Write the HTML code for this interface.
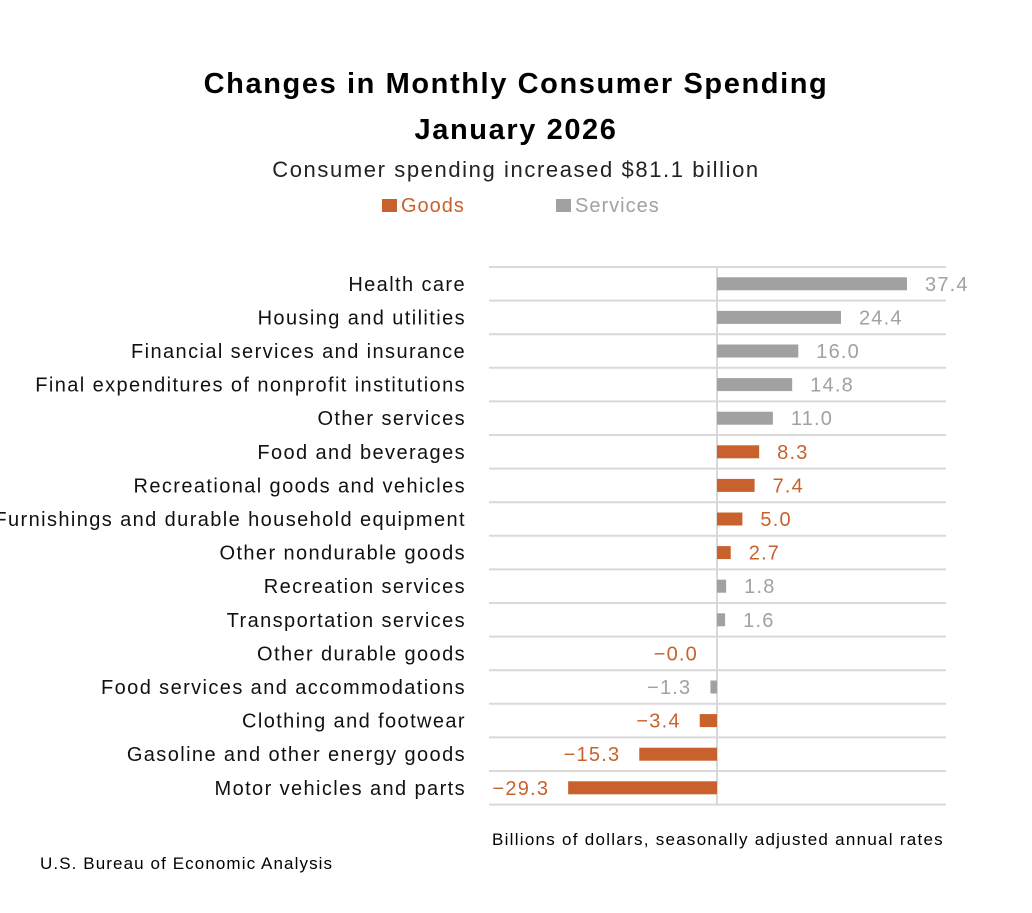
<!DOCTYPE html>
<html><head><meta charset="utf-8"><style>
body{margin:0;background:#fff;width:1032px;height:908px;overflow:hidden;font-family:"Liberation Sans",sans-serif}
</style></head><body>
<svg width="1032" height="908" xmlns="http://www.w3.org/2000/svg">
<text x="516" y="93" text-anchor="middle" font-size="29" font-weight="bold" letter-spacing="1.6" fill="#000">Changes in Monthly Consumer Spending</text>
<text x="516" y="139" text-anchor="middle" font-size="29" font-weight="bold" letter-spacing="1.6" fill="#000">January 2026</text>
<text x="516" y="177" text-anchor="middle" font-size="22" letter-spacing="1.6" fill="#222">Consumer spending increased $81.1 billion</text>
<g>
<rect x="382" y="199" width="15" height="13" fill="#c8612c"/>
<text x="401" y="212" font-size="20" letter-spacing="1" fill="#c8612c">Goods</text>
<rect x="556" y="199" width="15" height="13" fill="#a0a2a2"/>
<text x="575" y="212" font-size="20" letter-spacing="1" fill="#a0a2a2">Services</text>
</g>
<g id="plot"></g>
<text x="718" y="845" text-anchor="middle" font-size="17" letter-spacing="1.27" fill="#000">Billions of dollars, seasonally adjusted annual rates</text>
<text x="40" y="869" font-size="17" letter-spacing="1.1" fill="#000">U.S. Bureau of Economic Analysis</text>
</svg>
<script>
const categories=["Health care","Housing and utilities","Financial services and insurance","Final expenditures of nonprofit institutions","Other services","Food and beverages","Recreational goods and vehicles","Furnishings and durable household equipment","Other nondurable goods","Recreation services","Transportation services","Other durable goods","Food services and accommodations","Clothing and footwear","Gasoline and other energy goods","Motor vehicles and parts"];
const values=[37.4,24.4,16.0,14.8,11.0,8.3,7.4,5.0,2.7,1.8,1.6,-0.0,-1.3,-3.4,-15.3,-29.3];
const types=["S","S","S","S","S","G","G","G","G","S","S","G","S","G","G","G"];
const NS="http://www.w3.org/2000/svg";
const g=document.getElementById('plot');
const x=v=>717+v*(190/37.4);
const top0=267,step=33.6;
const y=i=>top0+step*i;
const col=t=>t==="G"?"#c8612c":"#a0a2a2";
function mk(tag,a){const e=document.createElementNS(NS,tag);for(const k in a)e.setAttribute(k,a[k]);g.appendChild(e);return e;}
for(let i=0;i<=categories.length;i++){
 const l=mk('line',{x1:489,x2:946,y1:y(i),y2:y(i),stroke:'#d9d9d9','stroke-width':2});
 
 
}
const z=mk('line',{x1:717,x2:717,y1:y(0),y2:y(categories.length),stroke:'#d9d9d9','stroke-width':2});


categories.forEach((c,i)=>{
 const cy=y(i)+step/2;
 const t=mk('text',{x:466,y:cy+7,'text-anchor':'end','font-size':20,'letter-spacing':1.4,fill:'#111'});
 t.textContent=c;
 
 
 const v=values[i];
 const x0=Math.min(x(0),x(v)),w=Math.abs(x(v)-x(0));
 const r=mk('rect',{x:x0,y:cy-6.5,width:Math.max(w,0),height:13,fill:col(types[i])});
 
 
 const neg=v<0||Object.is(v,-0);
 const lbl=neg?"\u2212"+Math.abs(v).toFixed(1):v.toFixed(1);
 const vt=mk('text',{x:neg?x(v)-19:x(v)+18,y:cy+7,'text-anchor':neg?'end':'start','font-size':20,'letter-spacing':1.2,fill:col(types[i])});
 vt.textContent=lbl;
 
 
});
</script>
</body></html>
